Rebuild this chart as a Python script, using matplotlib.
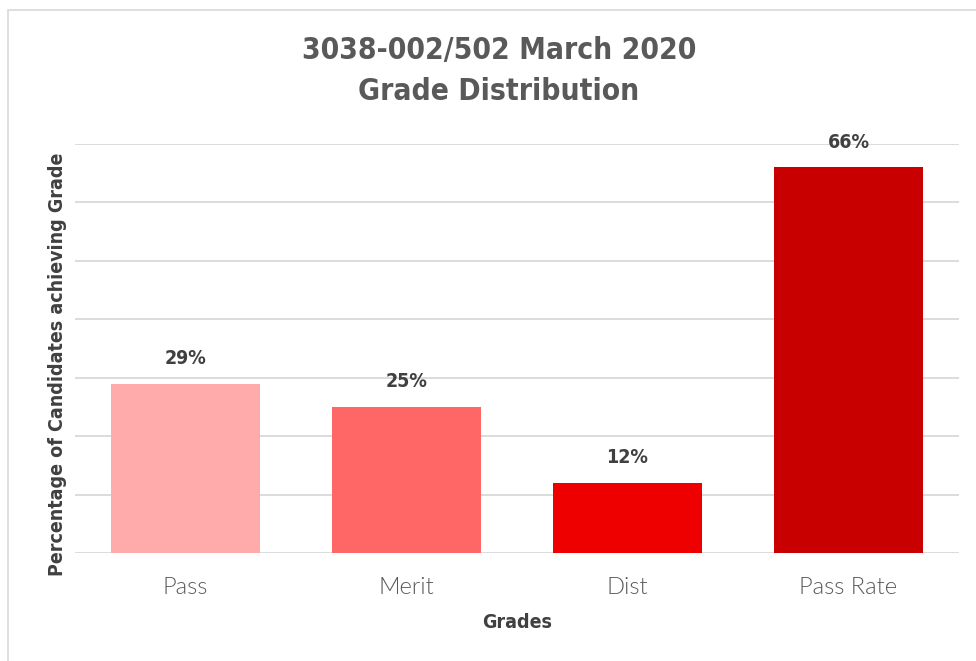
import matplotlib
matplotlib.use("Agg")
import matplotlib.pyplot as plt
from matplotlib.patches import Rectangle

categories = ["Pass", "Merit", "Dist", "Pass Rate"]
values = [0.29, 0.25, 0.12, 0.66]
labels = ["29%", "25%", "12%", "66%"]
colors = ["#FFABAB", "#FF6666", "#EE0000", "#C80000"]

title_font = ["DejaVu Sans"]
fig = plt.figure(figsize=(9.76, 6.61), dpi=100)
W, H = 976, 661

fig.patches.append(Rectangle((8 / W, -0.1), 1.2, (661 - 10) / H + 0.1,
                             transform=fig.transFigure, fill=False,
                             edgecolor="#D9D9D9", linewidth=1.2))

ax = fig.add_axes([75 / W, (H - 553) / H, 884 / W, 409 / H])
x = range(len(categories))
ax.bar(x, values, width=0.67, color=colors, zorder=3)
ax.set_xlim(-0.5, len(categories) - 0.5)
ax.set_ylim(0, 0.70)
ax.set_yticks([i / 10 for i in range(0, 8)])
ax.yaxis.grid(True, color="#D9D9D9", linewidth=1.3, zorder=0)
ax.tick_params(axis="y", left=False, labelleft=False)
ax.tick_params(axis="x", bottom=False, pad=14)
ax.set_xticks(list(x))
ax.set_xticklabels(categories, fontsize=17, color="#595959", family=["Lato", "DejaVu Sans"],
                   fontweight=300)
for s in ax.spines.values():
    s.set_visible(False)

for i, (v, l) in enumerate(zip(values, labels)):
    ax.annotate(l, (i, v), xytext=(0, 18), textcoords="offset points",
                ha="center", va="center", fontsize=14, fontweight="bold",
                color="#404040", family=title_font, fontstretch="condensed")

fig.text(499 / W, 1 - 50 / H, "3038-002/502 March 2020", ha="center", va="center",
         fontsize=21.5, fontweight="bold", color="#595959", family=title_font,
         fontstretch="condensed")
fig.text(499 / W, 1 - 92 / H, "Grade Distribution", ha="center", va="center",
         fontsize=21.5, fontweight="bold", color="#595959", family=title_font,
         fontstretch="condensed")
fig.text(58 / W, 1 - 364 / H, "Percentage of Candidates achieving Grade", rotation=90,
         ha="center", va="center", fontsize=14, fontweight="bold", color="#404040",
         family=title_font, fontstretch="condensed")
fig.text(517 / W, 1 - 622 / H, "Grades", ha="center", va="center",
         fontsize=14, fontweight="bold", color="#404040", family=title_font,
         fontstretch="condensed")

fig.savefig("out.png", dpi=100)
